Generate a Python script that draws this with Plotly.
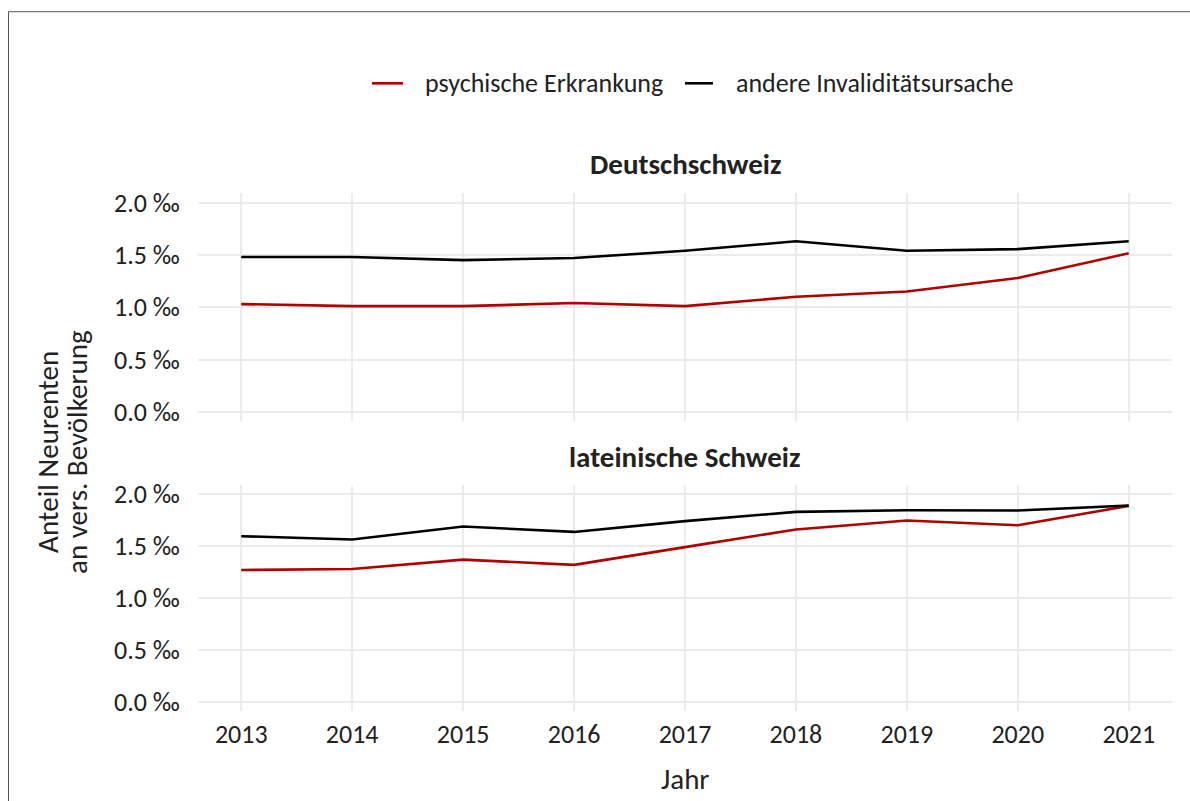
import plotly.graph_objects as go

years = [2013, 2014, 2015, 2016, 2017, 2018, 2019, 2020, 2021]

# Deutschschweiz (‰)
ds_psych = [1.03, 1.01, 1.01, 1.04, 1.01, 1.10, 1.15, 1.28, 1.515]
ds_andere = [1.48, 1.48, 1.45, 1.47, 1.54, 1.63, 1.54, 1.555, 1.63]

# lateinische Schweiz (‰)
ls_psych = [1.27, 1.28, 1.37, 1.32, 1.49, 1.66, 1.745, 1.70, 1.886]
ls_andere = [1.595, 1.563, 1.688, 1.636, 1.74, 1.828, 1.844, 1.841, 1.889]

panel_titles = ["Deutschschweiz", "lateinische Schweiz"]
series_names = ["psychische Erkrankung", "andere Invaliditätsursache"]
series_colors = ["#B00000", "#000000"]

y_tickvals = [0.0, 0.5, 1.0, 1.5, 2.0]
y_ticktext = ["0.0 ‰", "0.5 ‰", "1.0 ‰", "1.5 ‰", "2.0 ‰"]
x_ticktext = [str(y) for y in years]
y_title_lines = ["Anteil Neurenten", "an vers. Bevölkerung"]
x_title = "Jahr"

W, H = 1190, 801
FONT = "Carlito, Calibri, Lato, sans-serif"
TXT = "#222222"

# vertical calibration of the rendered page
Y_A, Y_S = 6.8, 0.981


def px_x(p):
    return p / W


def px_y(p):
    return 1 - ((p - Y_A) / Y_S) / H


fig = go.Figure()

panels = [(ds_psych, ds_andere, "x", "y"), (ls_psych, ls_andere, "x2", "y2")]
for i, (ps, an, xa, ya) in enumerate(panels):
    for name, vals, col in zip(series_names, [ps, an], series_colors):
        fig.add_trace(go.Scatter(
            x=years, y=vals, mode="lines", name=name,
            line=dict(color=col, width=2.6),
            xaxis=xa, yaxis=ya, showlegend=False,
        ))

x_dom = [px_x(198), px_x(1172)]
y_dom_top = [px_y(420), px_y(193)]
y_dom_bot = [px_y(710), px_y(484)]
xr = [2012.61, 2021.39]
yr = [-0.086, 2.087]

common_x = dict(range=xr, tickvals=years, ticktext=x_ticktext, showgrid=True,
                gridcolor="#EBEBEB", gridwidth=2, zeroline=False, showline=False,
                tickfont=dict(family=FONT, size=26, color=TXT),
                ticks="outside", ticklen=0, tickcolor="rgba(0,0,0,0)", fixedrange=True)
common_y = dict(range=yr, tickvals=y_tickvals, ticktext=y_ticktext, showgrid=True,
                gridcolor="#EBEBEB", gridwidth=2, zeroline=False, showline=False,
                tickfont=dict(family=FONT, size=26, color=TXT),
                ticks="outside", ticklen=12, tickcolor="rgba(0,0,0,0)", fixedrange=True)

fig.update_layout(
    width=W, height=H,
    margin=dict(l=0, r=0, t=0, b=0),
    paper_bgcolor="white", plot_bgcolor="white",
    font=dict(family=FONT, color=TXT),
    xaxis=dict(domain=x_dom, anchor="y", showticklabels=False, **common_x),
    yaxis=dict(domain=y_dom_top, anchor="x", **common_y),
    xaxis2=dict(domain=x_dom, anchor="y2", **common_x),
    yaxis2=dict(domain=y_dom_bot, anchor="x2", **common_y),
    showlegend=False,
)

annotations = [
    dict(text="<b>" + panel_titles[0] + "</b>", x=px_x(685), y=px_y(164), xref="paper", yref="paper",
         showarrow=False, font=dict(family=FONT, size=29, color=TXT), xanchor="center", yanchor="middle"),
    dict(text="<b>" + panel_titles[1] + "</b>", x=px_x(685), y=px_y(456), xref="paper", yref="paper",
         showarrow=False, font=dict(family=FONT, size=29, color=TXT), xanchor="center", yanchor="middle"),
    dict(text=x_title, x=px_x(685), y=px_y(778), xref="paper", yref="paper",
         showarrow=False, font=dict(family=FONT, size=29, color=TXT), xanchor="center", yanchor="middle"),
]
for line, cx in zip(y_title_lines, [48, 77]):
    annotations.append(dict(text=line, x=px_x(cx), y=px_y(451), xref="paper", yref="paper",
                            showarrow=False, textangle=-90, font=dict(family=FONT, size=29, color=TXT),
                            xanchor="center", yanchor="middle"))

# manual legend (keys + labels)
legend_key_x = [(372, 403), (685, 713)]
legend_text_x = [423, 734]
LEG_Y = 83
for name, col, (k0, k1), tx in zip(series_names, series_colors, legend_key_x, legend_text_x):
    fig.add_shape(type="line", xref="paper", yref="paper",
                  x0=px_x(k0), x1=px_x(k1), y0=px_y(LEG_Y), y1=px_y(LEG_Y),
                  line=dict(color=col, width=2.6))
    annotations.append(dict(text=name, x=px_x(tx), y=px_y(LEG_Y), xref="paper", yref="paper",
                            showarrow=False, font=dict(family=FONT, size=26, color=TXT),
                            xanchor="left", yanchor="middle"))

fig.update_layout(annotations=annotations)

fig.add_shape(type="rect", xref="paper", yref="paper",
              x0=px_x(8.5), x1=px_x(1200), y0=-0.05, y1=px_y(11.5),
              line=dict(color="#555555", width=1), fillcolor="rgba(0,0,0,0)", layer="below")

fig.write_html(
    "out.html",
    config={"displayModeBar": False},
    post_script="document.documentElement.style.margin='0';document.body.style.margin='0';"
                "document.body.style.padding='0';document.body.style.overflow='hidden';",
)
